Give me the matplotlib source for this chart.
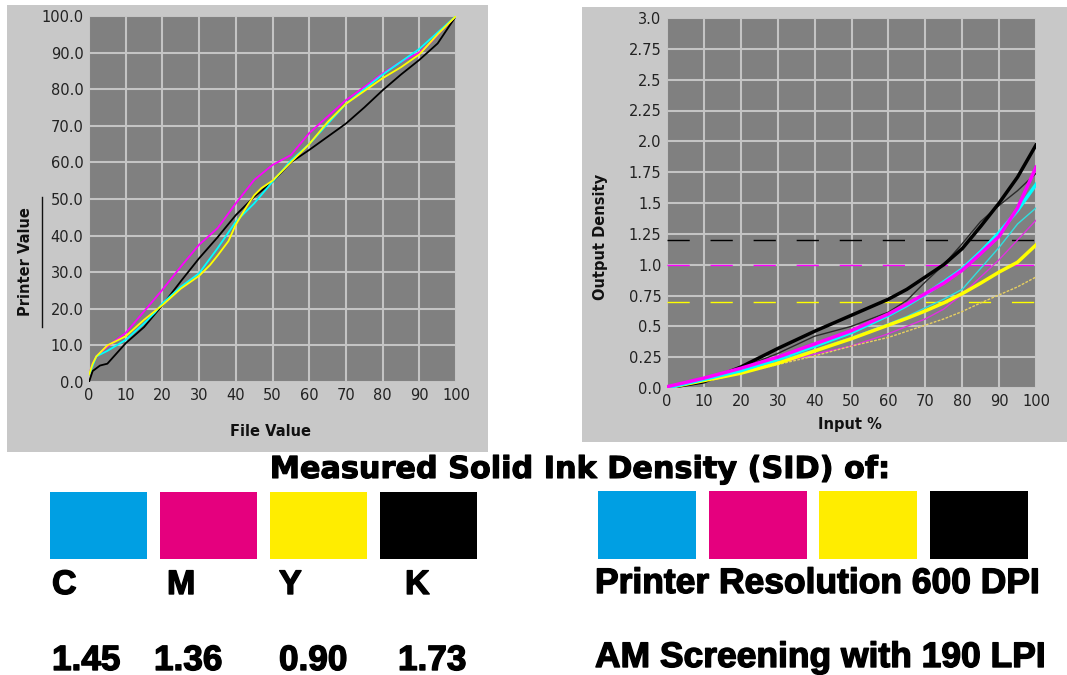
import matplotlib
matplotlib.use("Agg")
import matplotlib.pyplot as plt
from matplotlib.patches import Rectangle
import matplotlib.patheffects as pe

W, H = 1067, 675

# ---------------- Left chart data (File Value -> Printer Value) ----------------
left_x_c = [0, 2, 5, 10, 15, 18, 20, 25, 30, 35, 40, 45, 50, 55, 60, 65, 70, 75, 80, 85, 90, 95, 100]
left_cyan = [2, 7, 8.5, 11.5, 16, 19, 21.5, 26, 29.7, 36.5, 43.8, 48.8, 54.7, 60.5, 65, 70.5, 76, 80, 84, 87.5, 91, 95.5, 100]

left_x_m = [0, 1, 2, 5, 10, 15, 20, 25, 30, 35, 40, 45, 50, 55, 60, 65, 70, 75, 80, 85, 90, 93, 96, 100]
left_magenta = [2, 5, 7, 9.7, 13.4, 19.3, 25.2, 31.5, 37.5, 42, 48.8, 55.2, 59.3, 62, 68, 72.5, 77, 80.6, 84.3, 87.5, 90, 92.7, 96, 100]

left_x_y = [0, 1, 2, 5, 10, 15, 20, 25, 30, 33, 35, 38, 40, 43, 45, 47, 50, 55, 60, 65, 70, 75, 80, 85, 90, 95, 100]
left_yellow = [2, 5, 7, 10, 12.5, 17, 21, 25.5, 29, 32, 34.5, 38.5, 43, 48, 51, 53, 55, 60, 65, 71, 76, 79.5, 83, 86, 89.5, 95, 100]

left_x_k = [0, 1, 3, 5, 10, 15, 20, 25, 30, 35, 40, 45, 50, 55, 60, 65, 70, 75, 80, 85, 90, 95, 100]
left_black = [0, 3, 4.5, 5, 10.6, 15, 21, 27.5, 33.8, 39.5, 45.6, 50.6, 54.7, 60, 63.4, 67, 70.6, 75, 79.7, 84, 88, 92.5, 100]

left_xticks = [0, 10, 20, 30, 40, 50, 60, 70, 80, 90, 100]
left_yticks = [0, 10, 20, 30, 40, 50, 60, 70, 80, 90, 100]
left_yticklabels = ["0.0", "10.0", "20.0", "30.0", "40.0", "50.0", "60.0", "70.0", "80.0", "90.0", "100.0"]

# ---------------- Right chart data (Input % -> Output Density) ----------------
right_x = [0, 10, 20, 30, 40, 50, 60, 65, 70, 75, 80, 85, 90, 95, 100]
black_thick = [0.0, 0.05, 0.17, 0.32, 0.46, 0.59, 0.72, 0.80, 0.90, 1.0, 1.13, 1.31, 1.50, 1.71, 1.97]
magenta_thick = [0.01, 0.08, 0.16, 0.25, 0.357, 0.465, 0.60, 0.68, 0.765, 0.85, 0.955, 1.09, 1.23, 1.46, 1.79]
cyan_thick = [0.0, 0.07, 0.14, 0.235, 0.34, 0.45, 0.59, 0.67, 0.76, 0.86, 0.965, 1.105, 1.26, 1.44, 1.65]
yellow_thick = [0.0, 0.06, 0.12, 0.20, 0.30, 0.40, 0.51, 0.565, 0.625, 0.69, 0.765, 0.85, 0.94, 1.02, 1.16]

black_thin = [0.0, 0.05, 0.16, 0.28, 0.42, 0.50, 0.615, 0.71, 0.86, 1.0, 1.17, 1.35, 1.48, 1.60, 1.74]
cyan_thin = [0.0, 0.07, 0.13, 0.22, 0.31, 0.41, 0.52, 0.58, 0.65, 0.72, 0.80, 0.97, 1.14, 1.33, 1.46]
magenta_thin = [0.01, 0.07, 0.13, 0.20, 0.275, 0.34, 0.44, 0.50, 0.56, 0.64, 0.76, 0.90, 1.04, 1.20, 1.36]
yellow_thin = [0.0, 0.05, 0.12, 0.19, 0.26, 0.34, 0.41, 0.46, 0.51, 0.56, 0.62, 0.69, 0.755, 0.82, 0.90]

target_k = 1.20
target_m = 1.0
target_y = 0.70

right_xticks = [0, 10, 20, 30, 40, 50, 60, 70, 80, 90, 100]
right_yticks = [0, 0.25, 0.5, 0.75, 1.0, 1.25, 1.5, 1.75, 2.0, 2.25, 2.5, 2.75, 3.0]
right_yticklabels = ["0.0", "0.25", "0.5", "0.75", "1.0", "1.25", "1.5", "1.75", "2.0", "2.25", "2.5", "2.75", "3.0"]

# ---------------- Bottom texts ----------------
title_text = "Measured Solid Ink Density (SID) of:"
ink_letters = ["C", "M", "Y", "K"]
sid_values = ["1.45", "1.36", "0.90", "1.73"]
swatch_colors = ["#009fe3", "#e5007e", "#ffed00", "#000000"]
right_lines = ["Printer Resolution 600 DPI", "AM Screening with 190 LPI"]

PANEL = "#c8c8c8"
PLOT = "#808080"
GRID = "#c4c4c4"

fig = plt.figure(figsize=(W / 100, H / 100), dpi=100)
fig.patch.set_facecolor("white")


def fx(x):
    return x / W


def fy(y):
    return 1 - y / H


def prect(x0, y0, x1, y1, color, z=-1):
    r = Rectangle((fx(x0), fy(y1)), fx(x1) - fx(x0), fy(y0) - fy(y1),
                  transform=fig.transFigure, facecolor=color,
                  edgecolor="none", zorder=z)
    fig.add_artist(r)


# panel backgrounds
prect(7, 5, 488, 452, PANEL)
prect(582, 7, 1067, 442, PANEL)


def style_axes(ax):
    ax.set_zorder(2)
    ax.set_facecolor(PLOT)
    for s in ax.spines.values():
        s.set_visible(False)
    ax.grid(True, color=GRID, linewidth=1.5)
    ax.set_axisbelow(True)
    ax.tick_params(length=0, labelsize=10.5, labelcolor="#222222", pad=4)


# ---------------- Left axes ----------------
axL = fig.add_axes([fx(89), fy(382), fx(456) - fx(89), fy(16) - fy(382)])
style_axes(axL)
axL.plot(left_x_k, left_black, color="black", lw=1.3, zorder=3)
axL.plot(left_x_m, left_magenta, color="#ff00ff", lw=1.3, zorder=3)
axL.plot(left_x_c, left_cyan, color="#00ffff", lw=1.3, zorder=4)
axL.plot(left_x_y, left_yellow, color="#ffff00", lw=1.3, zorder=5)
axL.set_xlim(0, 100)
axL.set_ylim(0, 100)
axL.set_xticks(left_xticks)
axL.set_yticks(left_yticks)
axL.set_yticklabels(left_yticklabels)
fig.text(fx(270), fy(431), "File Value", ha="center", va="center",
         fontsize=10.5, fontweight="bold", color="#111111")
fig.text(fx(26), fy(262), "Printer Value", ha="center", va="center", rotation=90,
         fontsize=10.5, fontweight="bold", color="#111111")
fig.add_artist(plt.Line2D([fx(42), fx(42)], [fy(197), fy(327)], color="#111111",
                          lw=1.0, transform=fig.transFigure))

# ---------------- Right axes ----------------
axR = fig.add_axes([fx(667), fy(388), fx(1036) - fx(667), fy(18) - fy(388)])
style_axes(axR)
axR.axhline(target_k, color="black", lw=1.0, dashes=(16, 15), zorder=2)
axR.axhline(target_m, color="#ff00ff", lw=1.0, dashes=(16, 15), zorder=2)
axR.axhline(target_y, color="#ffff00", lw=1.0, dashes=(16, 15), zorder=2)
axR.plot(right_x, black_thin, color="#2a2a2a", lw=1.0, zorder=3)
axR.plot(right_x, cyan_thin, color="#30e0e0", lw=1.0, zorder=3)
axR.plot(right_x, magenta_thin, color="#e030e0", lw=1.0, zorder=3)
axR.plot(right_x, yellow_thin, color="#e8d060", lw=1.0, dashes=(2, 1), zorder=3)
axR.plot(right_x, black_thick, color="black", lw=2.5, zorder=4)
axR.plot(right_x, yellow_thick, color="#ffff00", lw=2.5, zorder=4)
axR.plot(right_x, cyan_thick, color="#00ffff", lw=2.5, zorder=5)
axR.plot(right_x, magenta_thick, color="#ff00ff", lw=2.5, zorder=6)
axR.set_xlim(0, 100)
axR.set_ylim(0, 3.0)
axR.set_xticks(right_xticks)
axR.set_yticks(right_yticks)
axR.set_yticklabels(right_yticklabels)
fig.text(fx(850), fy(424), "Input %", ha="center", va="center",
         fontsize=10.5, fontweight="bold", color="#111111")
fig.text(fx(601), fy(237), "Output Density", ha="center", va="center", rotation=90,
         fontsize=10.5, fontweight="bold", color="#111111")

# ---------------- Bottom section ----------------
heavy_t = [pe.withStroke(linewidth=0.8, foreground="black")]
heavy = [pe.withStroke(linewidth=1.0, foreground="black")]
TFONT = "DejaVu Sans"
FONT = "Liberation Sans"

fig.text(fx(579), fy(478), title_text, ha="center", va="baseline",
         fontsize=21.8, fontweight="bold", family=TFONT, path_effects=heavy_t)

left_sw_x = [50, 160, 270, 380]
right_sw_x = [598, 709, 819, 930]
for i, c in enumerate(swatch_colors):
    prect(left_sw_x[i], 492, left_sw_x[i] + 97, 559, c)
    prect(right_sw_x[i], 491, right_sw_x[i] + 98, 559, c)

letter_x = [52, 167, 279, 405]
for i, s in enumerate(ink_letters):
    fig.text(fx(letter_x[i]), fy(594), s, ha="left", va="baseline",
             fontsize=24.5, fontweight="bold", family=FONT, path_effects=heavy)

value_x = [52, 154, 279, 398]
for i, s in enumerate(sid_values):
    fig.text(fx(value_x[i]), fy(670), s, ha="left", va="baseline",
             fontsize=25.3, fontweight="bold", family=FONT, path_effects=heavy)

fig.text(fx(595), fy(593), right_lines[0], ha="left", va="baseline",
         fontsize=25.5, fontweight="bold", family=FONT, path_effects=heavy)
fig.text(fx(595), fy(667), right_lines[1], ha="left", va="baseline",
         fontsize=25.5, fontweight="bold", family=FONT, path_effects=heavy)

fig.savefig("out.png", dpi=100, facecolor="white")
